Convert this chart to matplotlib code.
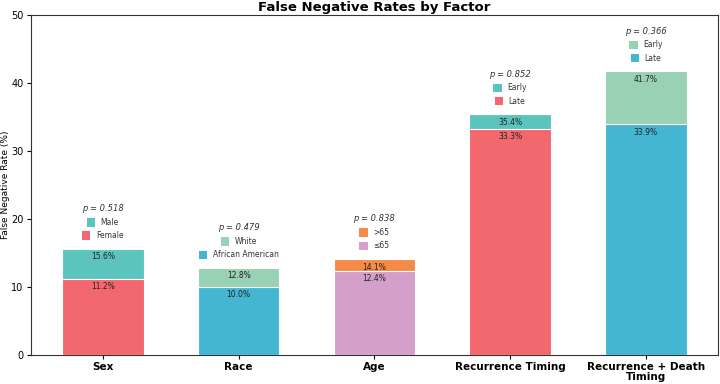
import matplotlib
matplotlib.use("Agg")
import matplotlib.pyplot as plt
from matplotlib.offsetbox import HPacker, TextArea, DrawingArea, AnnotationBbox
from matplotlib.patches import Rectangle

# data
factors = ["Sex", "Race", "Age", "Recurrence Timing", "Recurrence + Death\nTiming"]
p_values = [0.518, 0.479, 0.838, 0.852, 0.366]
# higher group (drawn behind) and lower group (drawn in front)
high_labels = ["Male", "White", ">65", "Early", "Early"]
high_values = [15.6, 12.8, 14.1, 35.4, 41.7]
low_labels = ["Female", "African American", "\u226465", "Late", "Late"]
low_values = [11.2, 10.0, 12.4, 33.3, 33.9]

high_colors = ["#5bc5bd", "#99d1b4", "#f68b47", "#5bc5bd", "#99d1b4"]
low_colors = ["#f2686e", "#44b6d2", "#d4a0cb", "#f2686e", "#44b6d2"]


def legend_row(ax, x, y, color, label):
    da = DrawingArea(6, 6, 0, 0)
    da.add_artist(Rectangle((0, 0), 6, 6, facecolor=color, edgecolor="none"))
    ta = TextArea(label, textprops=dict(fontsize=5.5, color="#333333"))
    box = HPacker(children=[da, ta], align="center", pad=0, sep=4)
    ab = AnnotationBbox(box, (x, y), frameon=False, box_alignment=(0.5, 0.5), pad=0)
    ax.add_artist(ab)


fig = plt.figure(figsize=(7.2, 3.84), dpi=100)
ax = fig.add_axes([0.043, 0.0755, 0.954, 0.8855])

x = list(range(len(factors)))
width = 0.6
ax.bar(x, high_values, width, color=high_colors, edgecolor="white", linewidth=0.8, zorder=2)
ax.bar(x, low_values, width, color=low_colors, edgecolor="white", linewidth=0.8, zorder=3)

for i in x:
    ax.text(i, high_values[i] - 0.5, f"{high_values[i]:.1f}%", ha="center", va="top",
            fontsize=5.5, color="#222222", zorder=4)
    ax.text(i, low_values[i] - 0.5, f"{low_values[i]:.1f}%", ha="center", va="top",
            fontsize=5.5, color="#222222", zorder=4)
    top = high_values[i]
    ax.text(i, top + 5.9, f"p = {p_values[i]:.3f}", ha="center", va="center",
            fontsize=6, style="italic", color="#333333")
    legend_row(ax, i, top + 3.9, high_colors[i], high_labels[i])
    legend_row(ax, i, top + 1.95, low_colors[i], low_labels[i])

ax.set_ylim(0, 50)
ax.set_xticks(x)
ax.set_xticklabels(factors, fontsize=7.5, fontweight="bold", linespacing=1.0)
ax.tick_params(axis="y", labelsize=7, length=3, pad=2.5)
ax.tick_params(axis="x", length=3, pad=2)
ax.set_ylabel("False Negative Rate (%)", fontsize=6.5, labelpad=1)
ax.set_title("False Negative Rates by Factor", fontsize=9.5, fontweight="bold", pad=3)
for s in ax.spines.values():
    s.set_color("#333333")

fig.savefig("out.png", dpi=100)
